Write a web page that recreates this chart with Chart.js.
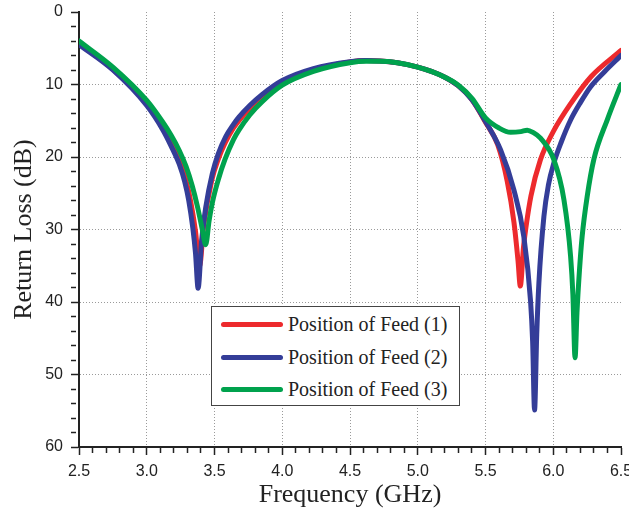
<!DOCTYPE html>
<html lang="en">
<head>
<meta charset="UTF-8" />
<title>Return Loss - Position of Feed</title>
<script src="https://cdn.jsdelivr.net/npm/chart.js"></script>
<style>
  html, body { margin: 0; padding: 0; background: #fff; }
  .wrap { position: relative; width: 629px; height: 516px; }
  #legend {
    position: absolute; left: 211px; top: 306px; width: 249px; height: 100px;
    box-sizing: border-box; border: 1.5px solid #444; background: #fff;
    font-family: "Liberation Serif", "Times New Roman", serif; font-size: 20px; color: #222;
  }
  #legend .row { position: absolute; left: 0; height: 24px; display: flex; align-items: center; white-space: nowrap; }
  #legend .swatch { width: 62px; height: 5px; border-radius: 3px; margin-left: 9px; margin-right: 5px; }
</style>
</head>
<body>
<div class="wrap">
  <canvas id="grafico"></canvas>
  <div id="legend"></div>
</div>

<script>
// Position of Feed (1)
const freq1 = [2.5, 2.75, 3.0, 3.12, 3.18, 3.24, 3.28, 3.31, 3.34, 3.36, 3.39, 3.42, 3.48, 3.53, 3.58, 3.64, 3.68, 3.76, 3.85, 4.0, 4.23, 4.5, 4.62, 4.72, 4.85, 5.0, 5.1, 5.2, 5.3, 5.4, 5.5, 5.59, 5.66, 5.71, 5.74, 5.757, 5.78, 5.80, 5.835, 5.905, 6.0, 6.13, 6.28, 6.5];
const loss1 = [4.4, 7.9, 12.6, 16.0, 18.1, 20.4, 22.6, 24.8, 27.8, 30.3, 35.0, 29.5, 23.2, 20.2, 18.0, 16.0, 15.0, 13.3, 11.7, 9.7, 8.0, 6.9, 6.7, 6.75, 7.0, 7.6, 8.2, 9.0, 10.2, 12.1, 15.2, 18.3, 23.3, 29.0, 34.3, 37.8, 32.5, 29.5, 25.4, 20.4, 16.5, 12.6, 8.9, 5.3];

// Position of Feed (2)
const freq2 = [2.5, 2.75, 3.0, 3.12, 3.18, 3.24, 3.28, 3.31, 3.34, 3.36, 3.379, 3.405, 3.435, 3.484, 3.527, 3.583, 3.64, 3.68, 3.76, 3.85, 4.0, 4.23, 4.5, 4.62, 4.72, 4.85, 5.0, 5.1, 5.2, 5.3, 5.4, 5.5, 5.611, 5.709, 5.783, 5.833, 5.848, 5.862, 5.878, 5.894, 5.931, 5.965, 6.005, 6.06, 6.128, 6.2, 6.276, 6.38, 6.5];
const loss2 = [4.5, 8.0, 12.9, 16.3, 18.5, 21.0, 23.4, 26.0, 29.8, 33.3, 38.1, 31.5, 27.0, 22.3, 19.6, 17.2, 15.5, 14.5, 12.9, 11.4, 9.45, 7.8, 6.85, 6.7, 6.75, 7.0, 7.6, 8.2, 9.0, 10.2, 12.1, 15.1, 19.0, 24.5, 31.0, 40.0, 45.5, 54.9, 44.5, 37.4, 28.2, 23.8, 20.8, 17.9, 14.9, 12.5, 10.3, 8.2, 6.0];

// Position of Feed (3)
const freq3 = [2.5, 2.75, 3.0, 3.115, 3.18, 3.24, 3.29, 3.336, 3.375, 3.41, 3.435, 3.46, 3.484, 3.53, 3.578, 3.64, 3.68, 3.76, 3.85, 4.0, 4.23, 4.5, 4.62, 4.72, 4.85, 5.0, 5.1, 5.2, 5.3, 5.4, 5.5, 5.6, 5.685, 5.76, 5.808, 5.85, 5.906, 6.005, 6.079, 6.128, 6.145, 6.161, 6.175, 6.194, 6.213, 6.25, 6.3, 6.4, 6.5];
const loss3 = [4.0, 7.6, 12.2, 15.1, 17.0, 19.1, 21.3, 24.0, 26.9, 30.0, 32.1, 28.8, 26.3, 23.0, 20.3, 17.6, 16.3, 14.2, 12.4, 10.1, 8.2, 7.0, 6.8, 6.8, 7.0, 7.6, 8.2, 9.0, 10.1, 11.9, 14.6, 16.0, 16.6, 16.5, 16.3, 16.6, 17.4, 20.4, 25.9, 33.7, 39.0, 47.7, 41.5, 35.5, 31.0, 25.5, 20.3, 14.8, 10.0];

const labels = ['Position of Feed (1)', 'Position of Feed (2)', 'Position of Feed (3)'];
const colors = ['#ED2A2D', '#343D98', '#00A24D'];

const pts = (xs, ys) => xs.map((x, i) => ({ x: x, y: ys[i] }));
const isMult = (v, step) => Math.abs(v / step - Math.round(v / step)) < 1e-6;

const serif = '"Liberation Serif", "Times New Roman", serif';
const sans = '"Liberation Sans", Arial, sans-serif';

const series = [pts(freq1, loss1), pts(freq2, loss2), pts(freq3, loss3)];

const ctx = document.getElementById('grafico').getContext('2d');
const grafico = new Chart(ctx, {
  type: 'line',
  data: {
    datasets: series.map((d, i) => ({
      label: labels[i],
      data: d,
      borderColor: colors[i],
      backgroundColor: colors[i],
      borderWidth: 5,
      pointRadius: 0,
      cubicInterpolationMode: 'monotone',
      borderCapStyle: 'round',
      borderJoinStyle: 'round',
      order: 3 - i,   // green on top, red at the bottom
    }))
  },
  options: {
    responsive: true,
    maintainAspectRatio: false,
    animation: false,
    layout: { padding: { top: 12, right: 8, left: 0, bottom: 0 } },
    plugins: { legend: { display: false }, tooltip: { enabled: false } },
    scales: {
      x: {
        type: 'linear', min: 2.5, max: 6.5,
        afterFit: s => { s.height = 69; s.paddingLeft = 0; s.paddingRight = 0; },
        ticks: {
          stepSize: 0.1, autoSkip: false, maxRotation: 0, minRotation: 0, padding: 7,
          color: '#222', font: { family: sans, size: 16 },
          callback: v => isMult(v, 0.5) ? v.toFixed(1) : ''
        },
        grid: {
          color: c => {
            const v = c.tick ? c.tick.value : NaN;
            return (isMult(v, 0.5) && v > 2.55 && v < 6.45) ? '#9a9a9a' : 'rgba(0,0,0,0)';
          },
          lineWidth: 1, tickLength: 8, tickColor: '#222', tickWidth: 1.5,
          tickBorderDash: c => (c.tick && isMult(c.tick.value, 0.5)) ? [] : [5, 20]
        },
        border: { color: '#222', width: 2, dash: [1, 2] },
        title: {
          display: true, text: 'Frequency (GHz)', color: '#222',
          font: { family: serif, size: 26 }, padding: { top: 0, bottom: 5 }
        }
      },
      y: {
        type: 'linear', min: 0, max: 60, reverse: true,
        afterFit: s => { s.width = 79; s.paddingTop = 0; s.paddingBottom = 0; },
        ticks: {
          stepSize: 2, autoSkip: false, padding: 8,
          color: '#222', font: { family: sans, size: 16 },
          callback: v => isMult(v, 10) ? String(v) : ''
        },
        grid: {
          color: c => {
            const v = c.tick ? c.tick.value : NaN;
            return (isMult(v, 10) && v > 0.5 && v < 59.5) ? '#9a9a9a' : 'rgba(0,0,0,0)';
          },
          lineWidth: 1, tickLength: 8, tickColor: '#222', tickWidth: 1.5,
          tickBorderDash: c => (c.tick && isMult(c.tick.value, 10)) ? [] : [5, 20]
        },
        border: { color: '#222', width: 2, dash: [1, 2] },
        title: {
          display: true, text: 'Return Loss (dB)', color: '#222',
          font: { family: serif, size: 26 }, padding: { top: 9, bottom: 0 }
        }
      }
    }
  }
});

// legend box drawn inside the plot, built from the datasets
const legend = document.getElementById('legend');
const rowTops = [5.5, 38.5, 70.5];
grafico.data.datasets.forEach((ds, i) => {
  const row = document.createElement('div');
  row.className = 'row';
  row.style.top = rowTops[i] + 'px';
  row.innerHTML = '<span class="swatch" style="background:' + ds.borderColor + '"></span><span>' + ds.label + '</span>';
  legend.appendChild(row);
});
</script>
</body>
</html>
